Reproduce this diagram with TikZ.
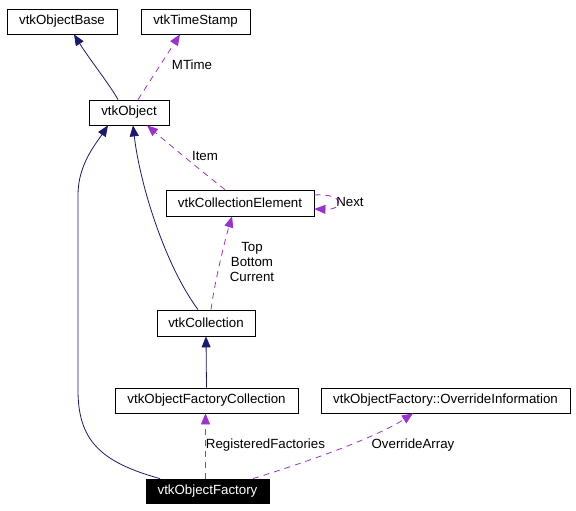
\documentclass[tikz,border=0pt]{standalone}
\usepackage{fontspec}
\setmainfont{Liberation Sans}
\usetikzlibrary{arrows.meta}
\definecolor{navyline}{RGB}{25,25,112}
\definecolor{orchidline}{RGB}{154,50,205}

\begin{document}
\begin{tikzpicture}[x=1pt,y=-1pt,
    cls/.style={draw=black,line width=0.8pt,minimum height=25pt,inner sep=0pt,font=\fontsize{13.3}{16}\selectfont},
    inherit/.style={draw=navyline,line width=0.8pt,-{Triangle[length=11pt,width=9pt]}},
    member/.style={draw=orchidline,line width=0.8pt,dash pattern=on 6pt off 5pt,-{Triangle[length=11pt,width=9pt]}},
    lbl/.style={font=\fontsize{13.3}{15}\selectfont,inner sep=0pt}]
      \useasboundingbox (0,0) rectangle (576,511);
      % classes
      \node[cls,minimum width=110pt] (objbase) at (62,21.5) {vtkObjectBase};
      \node[cls,minimum width=109pt] (timestamp) at (195.5,21.5) {vtkTimeStamp};
      \node[cls,minimum width=80pt] (object) at (129,112.5) {vtkObject};
      \node[cls,minimum width=148pt,minimum height=26pt] (collelem) at (240,203) {vtkCollectionElement};
      \node[cls,minimum width=98pt,minimum height=26pt] (coll) at (206,323) {vtkCollection};
      \node[cls,minimum width=183pt] (factcoll) at (206.5,400.5) {vtkObjectFactoryCollection};
      \node[cls,minimum width=249pt] (overinfo) at (445.5,400.5) {vtkObjectFactory::OverrideInformation};
      \node[cls,minimum width=123pt,minimum height=24pt,fill=black,text=white] (factory) at (207.5,491) {vtkObjectFactory};
      % inheritance
      \draw[inherit] ([xshift=-11pt]object.north) .. controls (110,85) and (90,60) .. ([xshift=12pt]objbase.south);
      \draw[inherit] ([xshift=-8pt]coll.north) .. controls (165,265) and (140,185) .. ([xshift=4pt]object.south);
      \draw[inherit] ([xshift=-47.5pt]factory.north) .. controls (100,462) and (78,440) .. (78,390)
                     -- (78,195) .. controls (78,165) and (95,145) .. ([xshift=-21pt]object.south);
      \draw[inherit] (factcoll.north) -- (coll.south);
      % members
      \draw[member] ([xshift=9pt]object.north) -- ([xshift=-15.5pt]timestamp.south);
      \node[lbl] (mtime) at (192,65) {MTime};
      \draw[member] ([xshift=-15pt]collelem.north) .. controls (200,170) and (170,145) .. ([xshift=18pt]object.south);
      \node[lbl] (item) at (205,156) {Item};
      \draw[member] ([xshift=5pt]coll.north) .. controls (215,280) and (225,240) .. ([xshift=-8pt]collelem.south);
      \node[lbl,align=center] (topbot) at (252,262) {Top\\Bottom\\Current};
      \draw[member] ([yshift=8pt]collelem.east) .. controls (345,193) and (345,210) .. ([yshift=-6pt]collelem.east);
      \node[lbl] (next) at (350,202) {Next};
      \draw[member] ([xshift=-2pt]factory.north) -- ([xshift=-1pt]factcoll.south);
      \node[lbl] (regfact) at (265.5,445) {RegisteredFactories};
      \draw[member] ([xshift=45.5pt]factory.north) .. controls (320,458) and (380,435) .. ([xshift=-32.5pt]overinfo.south);
      \node[lbl] (overarr) at (413,445) {OverrideArray};
      %\draw[member] (factory.east) -- (overinfo.west);
\end{tikzpicture}
\end{document}
